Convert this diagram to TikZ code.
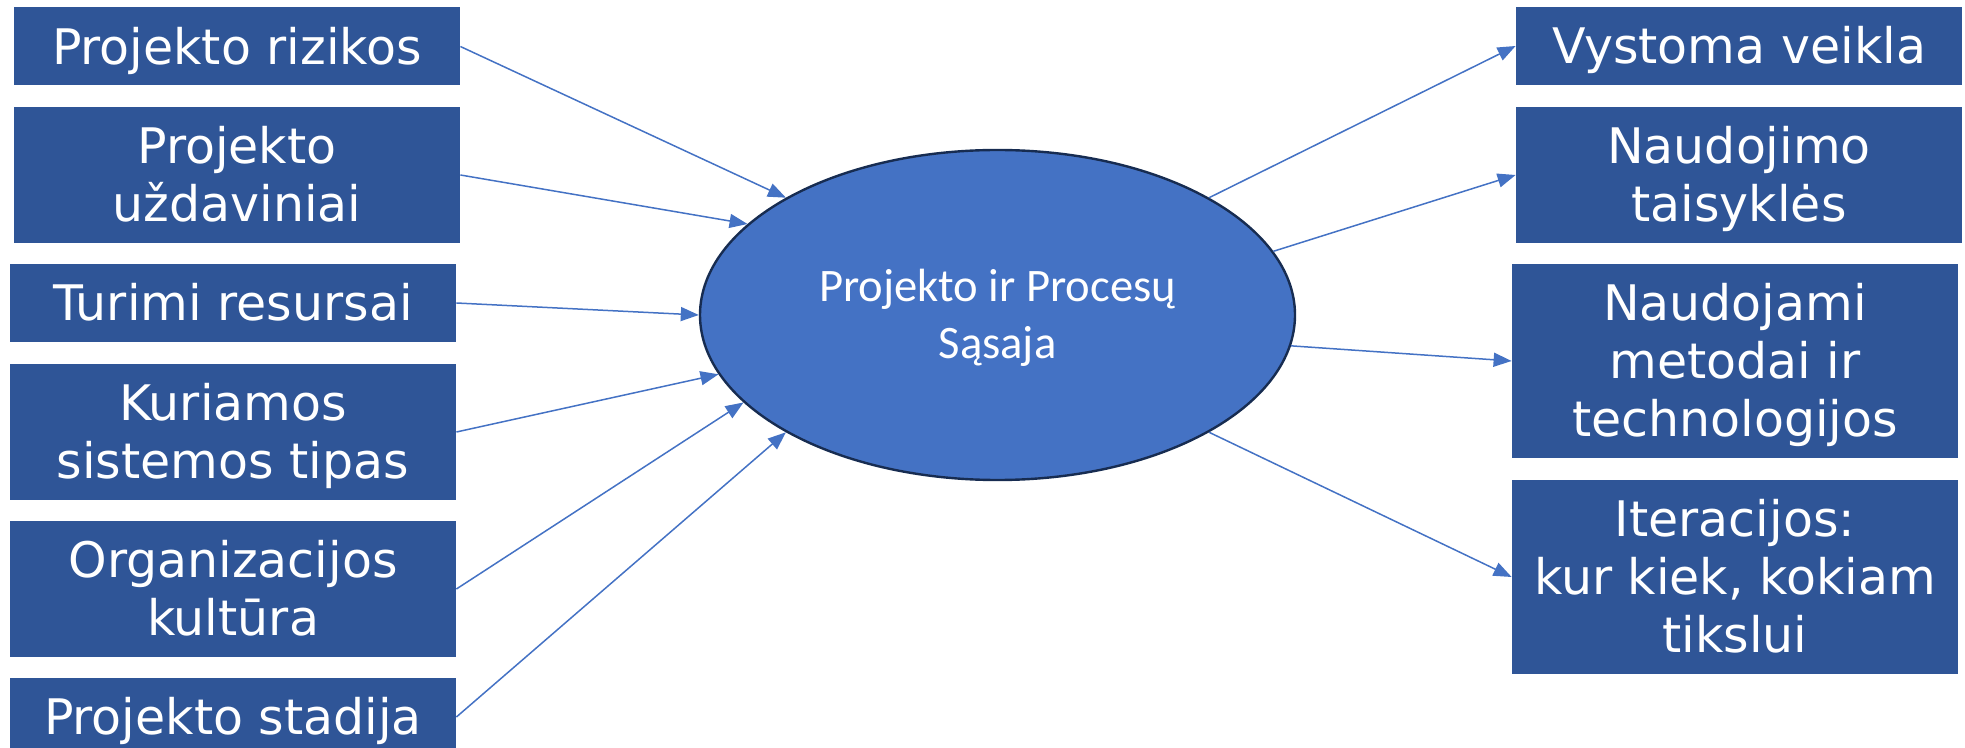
\documentclass[tikz,border=0pt]{standalone}
\usepackage{fontspec}
\setmainfont{DejaVu Sans}
\newfontfamily\ellfont{Carlito}
\usetikzlibrary{arrows.meta,shapes.geometric}
\definecolor{boxblue}{HTML}{2F5597}
\definecolor{accblue}{HTML}{4472C4}
\definecolor{rimblue}{HTML}{172C51}
\begin{document}
\begin{tikzpicture}[x=0.5pt,y=-0.5pt,
  factor/.style={fill=boxblue, text=white, inner sep=0pt, align=center,
    minimum width=223pt, font=\fontsize{24.5}{29}\selectfont, text depth=0pt},
  oneline/.style={factor, minimum height=39pt, text height=17.9pt},
  twoline/.style={factor, minimum height=68pt, text height=46.9pt},
  threeline/.style={factor, minimum height=97pt, text height=75.9pt},
  link/.style={draw=accblue, line width=0.75pt, -{Triangle[length=9pt,width=7pt]}},
]
\useasboundingbox (0,0) rectangle (1965,748);
\clip (0,0) rectangle (1965,748);

% central ellipse
\node[ellipse, fill=accblue, draw=rimblue, line width=1.2pt, inner sep=0pt,
      minimum width=297.5pt, minimum height=165pt, text=white, align=center,
      font=\ellfont\fontsize{23.3}{28.5}\selectfont, text height=43.5pt, text depth=0pt]
      (hub) at (997.5,315) {Projekto ir Procesų\\Sąsaja};

% influencing factors (left)
\node[oneline] (l1) at (237,46.5) {Projekto rizikos};
\node[twoline] (l2) at (237,175) {Projekto\\uždaviniai};
\node[oneline] (l3) at (233,303) {Turimi resursai};
\node[twoline] (l4) at (233,432) {Kuriamos\\sistemos tipas};
\node[twoline] (l5) at (233,589) {Organizacijos\\kultūra};
\node[oneline] (l6) at (233,717) {Projekto stadija};

% outcomes (right)
\node[oneline] (r1) at (1739,46) {Vystoma veikla};
\node[twoline] (r2) at (1739,175) {Naudojimo\\taisyklės};
\node[threeline] (r3) at (1735,361) {Naudojami\\metodai ir\\technologijos};
\node[threeline] (r4) at (1735,577) {Iteracijos:\\kur kiek, kokiam\\tikslui};

% connectors
\draw[link] (l1.east) -- (hub.151);
\draw[link] (l2.east) -- (hub.160);
\draw[link] (l3.east) -- (hub.180);
\draw[link] (l4.east) -- (hub.192);
\draw[link] (l5.east) -- (hub.199);
\draw[link] (l6.east) -- (hub.209);

\draw[link] (hub.29) -- (r1.west);
\draw[link] (hub.13) -- (r2.west);
\draw[link] (hub.-6) -- (r3.west);
\draw[link] (hub.-29) -- (r4.west);
\end{tikzpicture}
\end{document}
